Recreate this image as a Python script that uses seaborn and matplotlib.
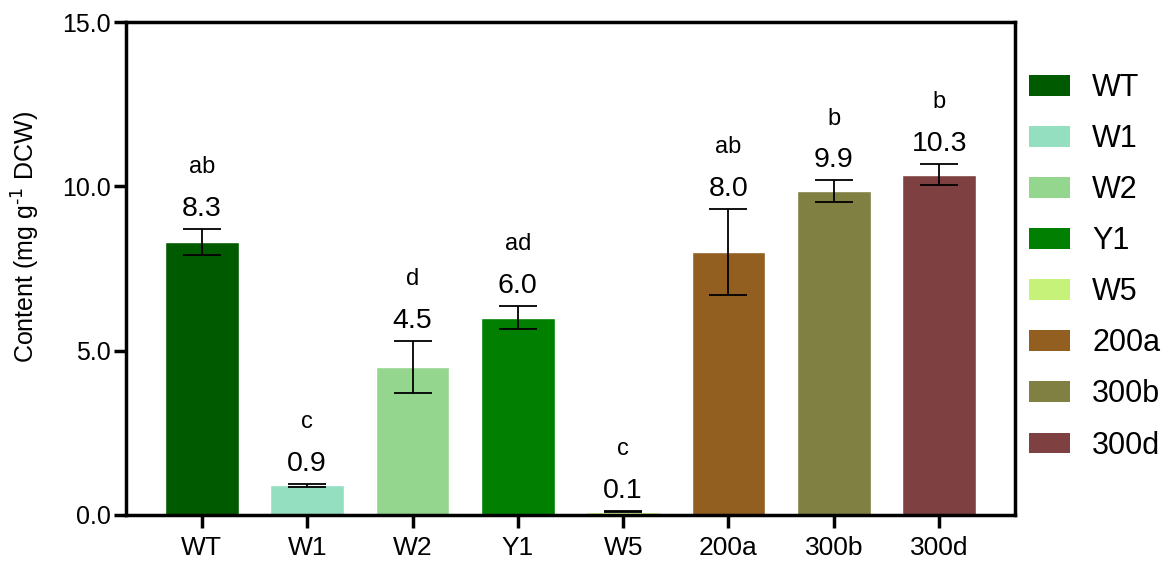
import matplotlib
matplotlib.use("Agg")
import matplotlib.pyplot as plt
import seaborn as sns
import pandas as pd
from matplotlib.patches import Patch

categories = ["WT", "W1", "W2", "Y1", "W5", "200a", "300b", "300d"]
values = [8.3, 0.9, 4.5, 6.0, 0.1, 8.0, 9.85, 10.35]
errors = [0.4, 0.05, 0.8, 0.35, 0.02, 1.3, 0.33, 0.32]
value_labels = ["8.3", "0.9", "4.5", "6.0", "0.1", "8.0", "9.9", "10.3"]
letters = ["ab", "c", "d", "ad", "c", "ab", "b", "b"]
colors = ["#005a00", "#93dfc0", "#94d68e", "#007f00", "#c6f27a", "#925f21", "#7f8041", "#7e4040"]

sns.set_style("ticks")
plt.rcParams["font.family"] = ["Liberation Sans", "DejaVu Sans"]
for k in ["text.color", "axes.labelcolor", "xtick.color", "ytick.color"]:
    plt.rcParams[k] = "black"

df = pd.DataFrame({"cat": categories, "val": values})
fig = plt.figure(figsize=(11.69, 5.64), dpi=100)
ax = fig.add_axes([126/1169, 1-515/564, (1015-126)/1169, (515-22)/564])
sns.barplot(data=df, x="cat", y="val", hue="cat", palette=colors, order=categories,
            hue_order=categories, dodge=False, width=0.7, legend=False, ax=ax,
            saturation=1, errorbar=None)
ax.errorbar(range(len(categories)), values, yerr=errors, fmt="none", ecolor="black",
            elinewidth=1.3, capsize=14, capthick=1.3)
for i, (v, e) in enumerate(zip(values, errors)):
    top = v + e
    ax.text(i, top + 0.4, value_labels[i], ha="center", va="baseline", fontsize=20.5)
    ax.text(i, top + 1.7, letters[i], ha="center", va="baseline", fontsize=17)

ax.set_xlim(-0.72, 7.72)
ax.set_ylim(0, 15)
ax.set_yticks([0, 5, 10, 15])
ax.set_yticklabels(["0.0", "5.0", "10.0", "15.0"])
ax.set_xlabel("")
ax.set_ylabel("Content (mg g$^{\\text{-1}}$ DCW)", fontsize=18)
ax.yaxis.set_label_coords(-0.095, 0.565)
for s in ax.spines.values():
    s.set_linewidth(2.5)
    s.set_color("black")
ax.tick_params(axis="both", width=2.5, length=9, colors="black")
ax.tick_params(axis="y", labelsize=18, pad=2)
ax.tick_params(axis="x", labelsize=19, pad=6)

handles = [Patch(facecolor=c, edgecolor="none") for c in colors]
fig.legend(handles, categories, loc="upper left", bbox_to_anchor=(1029/1169, 1-73/564),
           frameon=False, fontsize=22, handlelength=1.35, handleheight=0.66,
           labelspacing=0.69, handletextpad=0.72, borderpad=0, borderaxespad=0)
fig.savefig("out.png", dpi=100)
